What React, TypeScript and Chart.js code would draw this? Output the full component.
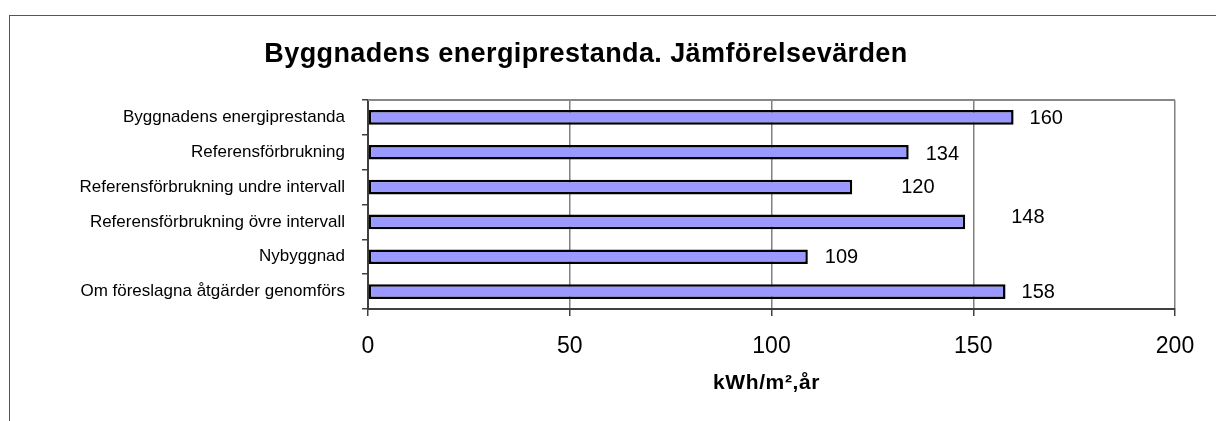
import React, { useEffect, useRef } from "react";
import { Chart, registerables } from "chart.js";

Chart.register(...registerables);

const chartTitle = "Byggnadens energiprestanda. Jämförelsevärden";
const axisTitle = "kWh/m²,år";
const categories = [
  "Byggnadens energiprestanda",
  "Referensförbrukning",
  "Referensförbrukning undre intervall",
  "Referensförbrukning övre intervall",
  "Nybyggnad",
  "Om föreslagna åtgärder genomförs",
];
const values = [160, 134, 120, 148, 109, 158];
const axisMin = 0;
const axisMax = 200;
const axisStep = 50;

// label nudges (pixels, relative to the bar end) as placed in the reference
const labelDx = [16, 17, 49, 46, 17, 16];
const labelDy = [1, 2, 0, -4, 1, 1];

const FONT = "'Liberation Sans', Arial, sans-serif";

const decorPlugin = {
  id: "decor",
  beforeDatasetsDraw(chart: any) {
    const { ctx, chartArea } = chart;
    ctx.save();
    ctx.strokeStyle = "#888888";
    ctx.lineWidth = 2;
    ctx.beginPath();
    ctx.moveTo(chartArea.left, chartArea.top);
    ctx.lineTo(chartArea.right, chartArea.top);
    ctx.stroke();
    ctx.restore();
  },
  afterDraw(chart: any) {
    const { ctx, chartArea } = chart;
    const meta = chart.getDatasetMeta(0);
    ctx.save();
    ctx.fillStyle = "#000";
    ctx.font = `20px ${FONT}`;
    ctx.textAlign = "left";
    ctx.textBaseline = "middle";
    meta.data.forEach((bar: any, i: number) => {
      ctx.fillText(String(values[i]), bar.x + labelDx[i], bar.y + labelDy[i]);
    });
    // chart title
    ctx.font = `bold 27px ${FONT}`;
    (ctx as any).letterSpacing = "0.4px";
    ctx.textAlign = "center";
    ctx.textBaseline = "alphabetic";
    ctx.fillText(chartTitle, 586, 62);
    // axis title
    ctx.font = `bold 21px ${FONT}`;
    (ctx as any).letterSpacing = "0.6px";
    ctx.fillText(axisTitle, (chartArea.left + chartArea.right) / 2 - 5, 389);
    (ctx as any).letterSpacing = "0px";
    ctx.restore();
  },
};

export default function App() {
  const ref = useRef<HTMLCanvasElement | null>(null);
  useEffect(() => {
    if (!ref.current) return;
    const chart = new Chart(ref.current, {
      type: "bar",
      data: {
        labels: categories,
        datasets: [
          {
            data: values,
            backgroundColor: "#9999ff",
            borderColor: "#000000",
            borderWidth: 2.5,
            borderSkipped: false,
            barPercentage: 0.42,
            categoryPercentage: 1,
          },
        ],
      },
      options: {
        indexAxis: "y",
        animation: false,
        responsive: true,
        maintainAspectRatio: false,
        layout: { padding: { top: 100, right: 41, left: 0, bottom: 0 } },
        plugins: {
          legend: { display: false },
          tooltip: { enabled: false },
          title: { display: false },
        },
        scales: {
          x: {
            min: axisMin,
            max: axisMax,
            ticks: {
              stepSize: axisStep,
              color: "#000",
              font: { family: FONT, size: 23 },
              padding: 17,
            },
            grid: {
              color: "#808080",
              lineWidth: 1.5,
              tickLength: 7,
              tickColor: "#404040",
            },
            border: { color: "#404040", width: 2 },
            afterFit(scale: any) {
              scale.height = 112;
            },
          },
          y: {
            ticks: {
              color: "#000",
              font: { family: FONT, size: 17 },
              padding: 17,
            },
            grid: {
              drawOnChartArea: false,
              tickLength: 6,
              color: "#404040",
              lineWidth: 1.5,
            },
            border: { color: "#404040", width: 2 },
            afterFit(scale: any) {
              scale.width = 368;
            },
          },
        },
      },
      plugins: [decorPlugin],
    });
    return () => chart.destroy();
  }, []);

  return (
    <div
      style={{
        position: "absolute",
        left: 0,
        top: 0,
        width: 1216,
        height: 421,
        overflow: "hidden",
        background: "#fff",
      }}
    >
      <div
        style={{
          position: "absolute",
          left: 9,
          top: 15,
          width: 1300,
          height: 500,
          border: "1px solid #555",
        }}
      />
      <canvas ref={ref} style={{ position: "absolute", left: 0, top: 0 }} />
    </div>
  );
}
